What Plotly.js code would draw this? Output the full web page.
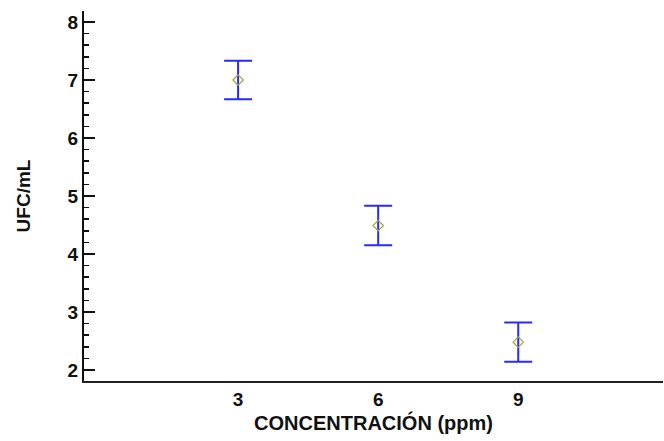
<!DOCTYPE html>
<html>
<head>
<meta charset="utf-8">
<script src="https://cdn.plot.ly/plotly-3.0.1.min.js"></script>
<style>html,body{margin:0;padding:0;background:#fff}#chart{width:664px;height:441px}</style>
</head>
<body>
<div id="chart"></div>
<script>
const concentrations = [3, 6, 9];
const ufcMeans = [7.0, 4.49, 2.48];
const ufcErrors = [0.33, 0.34, 0.34];
const xTickVals = [3, 6, 9];
const yTickVals = [2, 3, 4, 5, 6, 7, 8];

const fam = 'Arial, "Liberation Sans", sans-serif';
const tickFont = {family: fam, size: 19, color: '#111', weight: 'bold'};
const titleFont = {family: fam, size: 20, color: '#111', weight: 'bold'};

Plotly.newPlot('chart', [{
  x: concentrations,
  y: ufcMeans,
  type: 'scatter',
  mode: 'markers',
  marker: {symbol: 'diamond-open', size: 8, color: '#a5a530', line: {width: 1.2}},
  error_y: {type: 'data', array: ufcErrors, visible: true, color: '#2a2aff', thickness: 2, width: 14},
  showlegend: false,
  hoverinfo: 'none'
}], {
  width: 664, height: 441,
  margin: {l: 84, r: 1, t: 11, b: 60, pad: 0},
  paper_bgcolor: '#fff', plot_bgcolor: '#fff',
  font: {family: fam, size: 17, color: '#111'},
  xaxis: {
    range: [-0.3, 12.1], tickvals: xTickVals, ticks: '', showgrid: false, zeroline: false,
    showline: true, linecolor: '#222', linewidth: 2,
    tickfont: tickFont,
    title: {text: 'CONCENTRACIÓN (ppm)', font: titleFont, standoff: 7}
  },
  yaxis: {
    range: [1.81, 8.19], tickvals: yTickVals, ticks: 'inside', ticklen: 11, tickwidth: 1.5, tickcolor: '#111',
    minor: {ticks: 'inside', ticklen: 5, dtick: 0.2, tickwidth: 1.5, tickcolor: '#111', showgrid: false},
    showgrid: false, zeroline: false, showline: true, linecolor: '#111', linewidth: 2,
    tickfont: tickFont,
    title: {text: 'UFC/mL', font: {family: fam, size: 19, color: '#111', weight: 'bold'}, standoff: 32}
  }
}, {staticPlot: true});
</script>
</body>
</html>
